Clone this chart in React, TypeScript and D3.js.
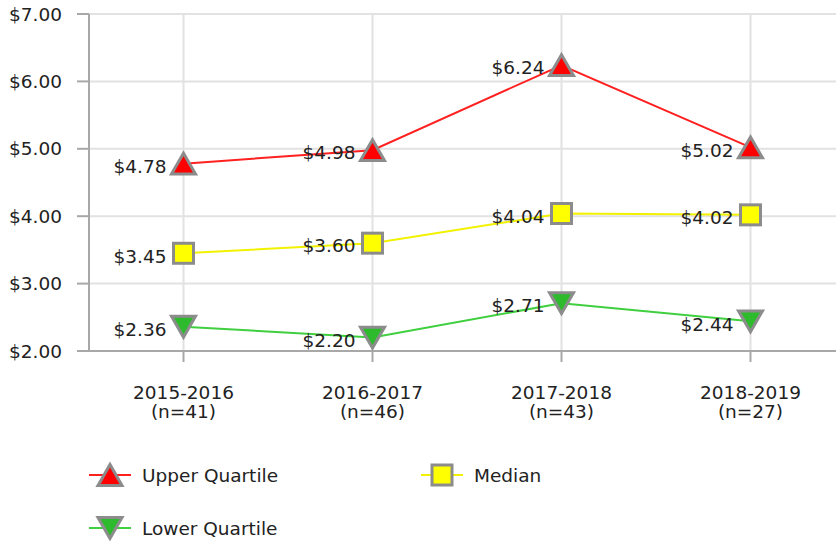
import * as d3 from 'd3';

const categories = ['2015-2016', '2016-2017', '2017-2018', '2018-2019'];
const counts = ['(n=41)', '(n=46)', '(n=43)', '(n=27)'];
const upperQuartile = [4.78, 4.98, 6.24, 5.02];
const median = [3.45, 3.60, 4.04, 4.02];
const lowerQuartile = [2.36, 2.20, 2.71, 2.44];
const yTicks = [2, 3, 4, 5, 6, 7];

const width = 836;
const height = 541;
const margin = { top: 14, left: 89, bottom: 190 };
const font = 'DejaVu Sans, Verdana, sans-serif';
const fontSize = 18.5;
const markerStroke = '#8c8c8c';

const series = [
  { name: 'Upper Quartile', values: upperQuartile, line: '#ff2020', fill: '#ff0000', shape: 'up' },
  { name: 'Median', values: median, line: '#f2f200', fill: '#ffff00', shape: 'square' },
  { name: 'Lower Quartile', values: lowerQuartile, line: '#3fcf3f', fill: '#2dbb2d', shape: 'down' },
];

const x = d3.scalePoint<string>().domain(categories).range([margin.left, margin.left + 756]).padding(0.5);
const y = d3.scaleLinear().domain([2, 7]).range([height - margin.bottom, margin.top]);

// triangle centred on its bounding box, as in the original
const side = 24;
const th = (side * Math.sqrt(3)) / 2;
const triPath = d3.path();
triPath.moveTo(0, -th / 2);
triPath.lineTo(side / 2, th / 2);
triPath.lineTo(-side / 2, th / 2);
triPath.closePath();
const triangle = triPath.toString();

const Marker = ({ shape, fill, cx, cy }: { shape: string; fill: string; cx: number; cy: number }) => {
  if (shape === 'square') {
    return <rect x={cx - 10} y={cy - 10} width={20} height={20} fill={fill} stroke={markerStroke} strokeWidth={3} />;
  }
  const rot = shape === 'down' ? 180 : 0;
  return (
    <path d={triangle} transform={`translate(${cx},${cy}) rotate(${rot})`} fill={fill} stroke={markerStroke} strokeWidth={3} />
  );
};

const App = () => {
  const fmt = d3.format('$.2f');
  const line = d3.line<number>()
    .x((_, i) => x(categories[i]) as number)
    .y((d) => y(d));
  const y0 = y(2);

  const legend = [
    { s: series[0], lx: 110, ly: 475 },
    { s: series[1], lx: 442, ly: 475 },
    { s: series[2], lx: 110, ly: 528 },
  ];

  return (
    <svg width={width} height={height} style={{ position: 'absolute', left: 0, top: 0 }} fontFamily={font}>
      <rect width={width} height={height} fill="#fff" />
      {/* grid */}
      {yTicks.map((t) => (
        <line key={t} x1={margin.left} x2={width} y1={y(t)} y2={y(t)} stroke="#e2e2e2" strokeWidth={2} />
      ))}
      {categories.map((c) => (
        <line key={c} x1={x(c)} x2={x(c)} y1={margin.top} y2={y0} stroke="#e2e2e2" strokeWidth={2} />
      ))}
      {/* axes */}
      <line x1={margin.left} x2={margin.left} y1={margin.top} y2={y0} stroke="#a8a8a8" strokeWidth={2} />
      <line x1={margin.left} x2={width} y1={y0} y2={y0} stroke="#a8a8a8" strokeWidth={2} />
      {yTicks.map((t) => (
        <g key={t}>
          <line x1={margin.left - 12} x2={margin.left} y1={y(t)} y2={y(t)} stroke="#a8a8a8" strokeWidth={2} />
          <text x={62} y={y(t)} dy="0.36em" textAnchor="end" fontSize={fontSize} fill="#222">{fmt(t)}</text>
        </g>
      ))}
      {categories.map((c, i) => (
        <g key={c}>
          <line x1={x(c)} x2={x(c)} y1={y0} y2={y0 + 11} stroke="#a8a8a8" strokeWidth={2} />
          <text x={x(c)} y={399} textAnchor="middle" fontSize={fontSize} fill="#222">{c}</text>
          <text x={x(c)} y={418} textAnchor="middle" fontSize={fontSize} fill="#222">{counts[i]}</text>
        </g>
      ))}
      {/* series */}
      {series.map((s) => (
        <g key={s.name}>
          <path d={line(s.values) as string} fill="none" stroke={s.line} strokeWidth={2} />
          {s.values.map((v, i) => (
            <Marker key={i} shape={s.shape} fill={s.fill} cx={x(categories[i]) as number} cy={y(v)} />
          ))}
          {s.values.map((v, i) => (
            <text key={'l' + i} x={(x(categories[i]) as number) - 17} y={y(v)} dy="0.5em" textAnchor="end" fontSize={fontSize} fill="#222">
              {fmt(v)}
            </text>
          ))}
        </g>
      ))}
      {/* legend */}
      {legend.map(({ s, lx, ly }) => (
        <g key={s.name}>
          <line x1={lx - 21} x2={lx + 21} y1={ly} y2={ly} stroke={s.line} strokeWidth={2} />
          <Marker shape={s.shape} fill={s.fill} cx={lx} cy={ly} />
          <text x={lx + 32} y={ly} dy="0.36em" fontSize={fontSize} fill="#222">{s.name}</text>
        </g>
      ))}
    </svg>
  );
};

export default App;
